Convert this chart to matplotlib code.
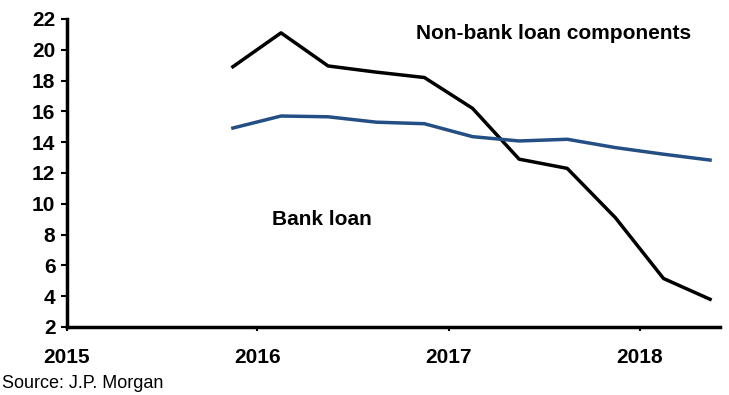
import matplotlib
matplotlib.use("Agg")
import matplotlib.pyplot as plt
import matplotlib.dates as mdates
import pandas as pd

plt.rcParams['font.family'] = ['Liberation Sans Narrow', 'Liberation Sans', 'DejaVu Sans']

dates = ["2015-11-15", "2016-02-15", "2016-05-15", "2016-08-15", "2016-11-15",
         "2017-02-15", "2017-05-15", "2017-08-15", "2017-11-15", "2018-02-15",
         "2018-05-15"]
non_bank = [18.9, 21.1, 18.95, 18.55, 18.2, 16.2, 12.9, 12.3, 9.1, 5.15, 3.8]
bank = [14.92, 15.7, 15.65, 15.3, 15.2, 14.36, 14.08, 14.19, 13.65, 13.22, 12.84]
year_ticks = ["2015", "2016", "2017", "2018"]
y_ticks = list(range(2, 23, 2))

x = pd.to_datetime(dates)

fig = plt.figure(figsize=(7.29, 3.95), dpi=100)
ax = fig.add_axes([66.5 / 729, 1 - 327 / 395, (720 - 66.5) / 729, (327 - 19) / 395])

ax.plot(x, non_bank, color='black', lw=2.5)
ax.plot(x, bank, color='#234f85', lw=2.5)

ax.set_ylim(2, 22)
ax.set_yticks(y_ticks)
ax.set_xlim(pd.Timestamp("2015-01-01"), pd.Timestamp("2018-06-03"))
ax.set_xticks(pd.to_datetime([y + "-01-01" for y in year_ticks]))
ax.xaxis.set_major_formatter(mdates.DateFormatter("%Y"))

for s in ['top', 'right']:
    ax.spines[s].set_visible(False)
for s in ['left', 'bottom']:
    ax.spines[s].set_linewidth(2.5)

ax.tick_params(axis='y', direction='out', length=4, width=1.5, pad=4)
ax.tick_params(axis='x', direction='out', length=3, width=1.5, pad=12)
for lab in ax.get_xticklabels() + ax.get_yticklabels():
    lab.set_fontsize(15)
    lab.set_fontweight('bold')

ax.text(0.535, 0.953, "Non-bank loan components", transform=ax.transAxes,
        fontsize=15, fontweight='bold', ha='left', va='center')
ax.text(0.315, 0.348, "Bank loan", transform=ax.transAxes,
        fontsize=15, fontweight='bold', ha='left', va='center')
fig.text(2 / 729, 1 - 383 / 395, "Source: J.P. Morgan", fontsize=13,
         ha='left', va='center')

fig.savefig("out.png", dpi=100)
